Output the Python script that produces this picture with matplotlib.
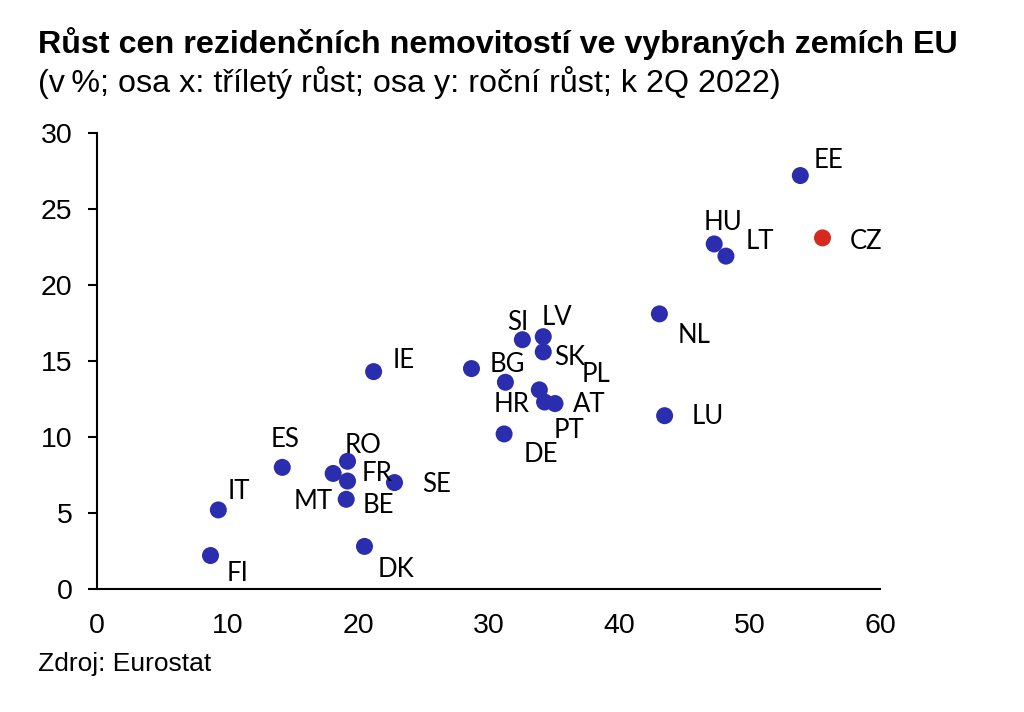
import matplotlib
matplotlib.use("Agg")
import matplotlib.pyplot as plt

# data (x: 3-year growth, y: annual growth, %)
countries = ["EE", "HU", "LT", "CZ", "NL", "LU", "SI", "LV", "SK", "BG", "HR", "PL",
             "PT", "AT", "DE", "IE", "ES", "RO", "MT", "FR", "BE", "SE", "IT", "FI", "DK"]
x_vals = [53.9, 47.3, 48.2, 55.6, 43.1, 43.5, 32.6, 34.2, 34.2, 28.7, 31.3, 33.9,
          34.3, 35.1, 31.2, 21.2, 14.2, 19.2, 18.1, 19.2, 19.1, 22.8, 9.3, 8.7, 20.5]
y_vals = [27.2, 22.7, 21.9, 23.1, 18.1, 11.4, 16.4, 16.6, 15.6, 14.5, 13.6, 13.1,
          12.3, 12.2, 10.2, 14.3, 8.0, 8.4, 7.6, 7.1, 5.9, 7.0, 5.2, 2.2, 2.8]
highlight = "CZ"

# label offsets in pixels (dx right, dy up)
label_off = {
    "EE": (28, 15), "HU": (9, 21), "LT": (34, 15), "CZ": (44, -4),
    "NL": (35, -22), "LU": (43, -1), "SI": (-5, 17), "LV": (14, 19),
    "SK": (26, -6), "BG": (36, 4), "HR": (6, -22), "PL": (57, 15),
    "PT": (24, -28), "AT": (34, -1), "DE": (37, -21), "IE": (30, 11),
    "ES": (3, 28), "RO": (16, 16), "MT": (-20, -28), "FR": (29, 8),
    "BE": (32, -6), "SE": (42, -2), "IT": (21, 18), "FI": (27, -18),
    "DK": (32, -23),
}

plt.rcParams['font.family'] = ['Liberation Sans', 'DejaVu Sans']

fig = plt.figure(figsize=(10.24, 7.12), dpi=100)
ax = fig.add_axes([0.0947, 0.1728, 0.7646, 0.6404])

blue = "#2B2DAF"
red = "#D42A20"
colors = [red if c == highlight else blue for c in countries]
ax.scatter(x_vals, y_vals, s=150, c=colors, zorder=3, linewidths=0)

for c, xv, yv in zip(countries, x_vals, y_vals):
    dx, dy = label_off[c]
    ax.annotate(c, (xv, yv), xytext=(dx, dy), textcoords="offset pixels",
                ha="center", va="center", fontsize=18.5,
                family=["Lato", "DejaVu Sans"], color="black")

ax.set_xlim(0, 60)
ax.set_ylim(0, 30)
ax.set_xticks(range(0, 61, 10))
ax.set_yticks(range(0, 31, 5))
ax.spines["top"].set_visible(False)
ax.spines["right"].set_visible(False)
ax.spines["left"].set_linewidth(1.5)
ax.spines["bottom"].set_linewidth(1.5)
ax.tick_params(axis="y", direction="out", length=6.5, width=1.5, labelsize=20.5, pad=11)
ax.tick_params(axis="x", length=0, labelsize=20.5, pad=17)

fig.text(0.037, 0.939, "Růst cen rezidenčních nemovitostí ve vybraných zemích EU",
         fontsize=23.2, fontweight="bold", va="center", ha="left")
fig.text(0.037, 0.884, "(v\u2009%; osa x: tříletý růst; osa y: roční růst; k 2Q 2022)",
         fontsize=23.2, va="center", ha="left")
fig.text(0.037, 0.067, "Zdroj: Eurostat", fontsize=19, va="center", ha="left")

fig.savefig("out.png", dpi=100)
